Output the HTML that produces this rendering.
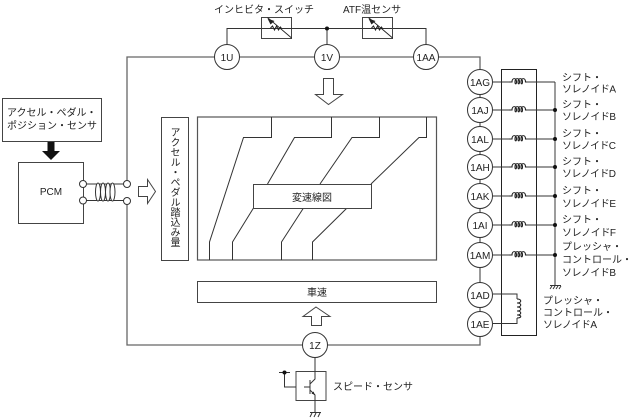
<!DOCTYPE html>
<html><head><meta charset="utf-8">
<style>
html,body{margin:0;padding:0;background:#fff;width:636px;height:418px;overflow:hidden}
svg{display:block}
text{font-family:"Liberation Sans","Noto Sans CJK JP",sans-serif;font-size:10px;fill:#222}
.w{fill:none;stroke:#333;stroke-width:1}
.g{fill:none;stroke:#666;stroke-width:1.3}
.b{fill:#fff;stroke:#444;stroke-width:1}
.c{fill:#fff;stroke:#333;stroke-width:1}
.m{text-anchor:middle}
</style></head><body>
<svg width="636" height="418" viewBox="0 0 636 418" xmlns="http://www.w3.org/2000/svg">
<defs>
<g id="coil"><path d="M-9 0H-6C-6-4.500-1.500-4.500-1.500 0C-1.500 2.500-3 2.500-3 0C-3-4.500 1.500-4.500 1.500 0C1.500 2.500 0 2.500 0 0C0-4.500 4.500-4.500 4.500 0C4.500 2.500 3 2.500 3 0C3-4.500 7.500-4.500 7.500 0H9" fill="none" stroke="#222" stroke-width="1.100"/></g>
<g id="res"><path d="M0 0L31 21" fill="none" stroke="#222" stroke-width="1" transform="translate(6,0) scale(.78,.98)"/><path d="M9 10.500l2-2 2 4 2-4 2 4 2-3 1 1.500" fill="none" stroke="#222" stroke-width="1"/><path d="M6 1l7 2.500-4 3.500z" fill="#222"/></g>
</defs>

<!-- main wiring -->
<path class="g" d="M127 201V345H480V337"/>
<path class="g" d="M127 184V57H480V70"/>
<path class="w" d="M480 94V312"/>
<path class="w" d="M227 45V28.500H262M292 28.500H362M392 28.500H426V45M327 28.500V45"/>
<circle cx="327" cy="28.500" r="2" fill="#111"/>

<!-- sensors on top -->
<rect class="b" x="261.500" y="17.500" width="30" height="21"/>
<rect class="b" x="362.500" y="17.500" width="30" height="21"/>
<path class="w" d="M261.500 28.500H292M362.500 28.500H392"/>
<use href="#res" x="261.500" y="17.500"/>
<use href="#res" x="362.500" y="17.500"/>
<text x="214" y="13">インヒビタ・スイッチ</text>
<text x="343" y="13">ATF温センサ</text>

<!-- top connector circles -->
<circle class="c" cx="227" cy="57" r="12.500"/><text class="m" x="227" y="61">1U</text>
<circle class="c" cx="327" cy="57" r="12.500"/><text class="m" x="327" y="61">1V</text>
<circle class="c" cx="426" cy="57" r="12.500"/><text class="m" x="426" y="61">1AA</text>

<!-- hollow down arrow -->
<path class="b" d="M323.500 78.500H333.500V94.500H342.500L328.500 104.500L315.500 94.500H323.500Z"/>

<!-- accel box + PCM -->
<rect class="b" x="2.500" y="98.500" width="99" height="43"/>
<text x="7" y="116">アクセル・ペダル・</text>
<text x="7" y="129">ポジション・センサ</text>
<path d="M47.500 142H54.500V151H60L51 160L42 151H47.500Z" fill="#111"/>
<rect class="b" x="18.500" y="162.500" width="65" height="61"/>
<text class="m" x="51" y="195">PCM</text>
<path class="w" d="M83 184H127M83 200.500H127"/>
<g fill="#fff" stroke="#333" stroke-width="1">
<ellipse cx="98" cy="192" rx="2.500" ry="9"/><ellipse cx="103" cy="192" rx="2.500" ry="9"/><ellipse cx="108" cy="192" rx="2.500" ry="9"/><ellipse cx="112.500" cy="192" rx="2.500" ry="9"/>
<circle cx="83" cy="184" r="3.500"/><circle cx="83" cy="200.500" r="3.500"/>
<circle cx="127" cy="184" r="3.500"/><circle cx="127" cy="201" r="3.500"/>
</g>
<path class="b" d="M138.500 186.500H147.500V179.500L155.500 191.500L147.500 203.500V196.500H138.500Z"/>

<!-- vertical box -->
<rect class="b" x="161.500" y="117.500" width="27" height="143"/>
<text x="173.500" y="127" style="writing-mode:vertical-rl;glyph-orientation-vertical:0" text-anchor="start">アクセル・ペダル踏込み量</text>

<!-- shift chart -->
<rect x="197.500" y="117" width="239" height="143" fill="#fff" stroke="#555" stroke-width="1.200"/>
<path class="w" d="M271.500 117V137.500H243.500L209.500 242V260"/>
<path class="w" d="M331.500 117V137.500H294.500L267.500 184M253.500 208L232.500 242V260"/>
<path class="w" d="M379.500 117V137.500H352L320 184M303.500 208L281.500 242V260"/>
<path class="w" d="M426.500 117V137.500H419L371 184M347 208L312.500 242V260"/>
<rect class="b" x="253.500" y="184.500" width="118" height="24"/>
<text class="m" x="312" y="201">変速線図</text>
<rect class="b" x="197.500" y="281.500" width="239" height="21"/>
<text class="m" x="317" y="296">車速</text>

<!-- up arrow -->
<path class="b" d="M316 307L330 316.500H321.500V325.500H311.500V316.500H303Z"/>

<!-- solenoid block -->
<rect x="501.500" y="69.500" width="35" height="266" fill="none" stroke="#222" stroke-width="1"/>
<path class="g" d="M555 82V285"/>
<path class="w" d="M493 82H509M527 82H555M493 110H509M527 110H555M493 139H509M527 139H555M493 167H509M527 167H555M493 196H509M527 196H555M493 225H509M527 225H555M493 255H509M527 255H555"/>
<use href="#coil" x="518" y="82"/><use href="#coil" x="518" y="110"/><use href="#coil" x="518" y="139"/><use href="#coil" x="518" y="167"/><use href="#coil" x="518" y="196"/><use href="#coil" x="518" y="225"/><use href="#coil" x="518" y="255"/>
<g fill="#111"><circle cx="555" cy="110" r="2"/><circle cx="555" cy="139" r="2"/><circle cx="555" cy="167" r="2"/><circle cx="555" cy="196" r="2"/><circle cx="555" cy="225" r="2"/><circle cx="555" cy="255" r="2"/></g>
<path class="w" d="M550 285.500H561M552 286L550 289M555 286L553 289M558 286L556 289M561 286L559 289"/>
<path class="w" d="M493 294H517V299M493 323.500H517V318"/>
<path d="M517 299c5 0 5 4 0 4c5 0 5 4 0 4c5 0 5 4 0 4c5 0 5 4 0 4c5 0 5 3 0 3" fill="none" stroke="#222" stroke-width="1.100"/>

<g id="circles">
<circle class="c" cx="480" cy="82" r="12.500"/><text class="m" x="480" y="86">1AG</text>
<circle class="c" cx="480" cy="110" r="12.500"/><text class="m" x="480" y="114">1AJ</text>
<circle class="c" cx="480" cy="139" r="12.500"/><text class="m" x="480" y="143">1AL</text>
<circle class="c" cx="480" cy="167" r="12.500"/><text class="m" x="480" y="171">1AH</text>
<circle class="c" cx="480" cy="196" r="12.500"/><text class="m" x="480" y="200">1AK</text>
<circle class="c" cx="480" cy="225" r="12.500"/><text class="m" x="480" y="229">1AI</text>
<circle class="c" cx="480" cy="255" r="12.500"/><text class="m" x="480" y="259">1AM</text>
<circle class="c" cx="480" cy="295" r="12.500"/><text class="m" x="480" y="299">1AD</text>
<circle class="c" cx="480" cy="324" r="12.500"/><text class="m" x="480" y="328">1AE</text>
</g>

<!-- solenoid labels -->
<text x="562" y="81">シフト・</text><text x="562" y="92.500" textLength="54">ソレノイドA</text>
<text x="562" y="108">シフト・</text><text x="562" y="120" textLength="54">ソレノイドB</text>
<text x="562" y="137">シフト・</text><text x="562" y="149" textLength="54">ソレノイドC</text>
<text x="562" y="165">シフト・</text><text x="562" y="177" textLength="54">ソレノイドD</text>
<text x="562" y="194">シフト・</text><text x="562" y="207" textLength="54">ソレノイドE</text>
<text x="562" y="223">シフト・</text><text x="562" y="236" textLength="54">ソレノイドF</text>
<text x="562" y="250">プレッシャ・</text><text x="562" y="263">コントロール・</text><text x="562" y="276" textLength="54">ソレノイドB</text>
<text x="543" y="304">プレッシャ・</text><text x="543" y="316">コントロール・</text><text x="543" y="328" textLength="54">ソレノイドA</text>

<!-- speed sensor -->
<circle class="c" cx="315" cy="345" r="12.500"/><text class="m" x="315" y="349">1Z</text>
<rect x="296" y="371.500" width="30" height="29" fill="none" stroke="#444" stroke-width="1"/>
<path class="w" d="M315 357.500V379L310 384M310 390L315 395V413M310 380V394M304 387H310"/>
<path class="w" d="M296 387H284.500V372.500M279 372.500H290"/>
<circle cx="284.500" cy="372.500" r="2" fill="#111"/>
<path d="M315 395l-3.500-1.500 2-2z" fill="#222"/>
<path class="w" d="M310 412.500H321M312 413L310 417M316 413L314 417M320 413L318 417"/>
<text x="333" y="390">スピード・センサ</text>
</svg>
</body></html>
